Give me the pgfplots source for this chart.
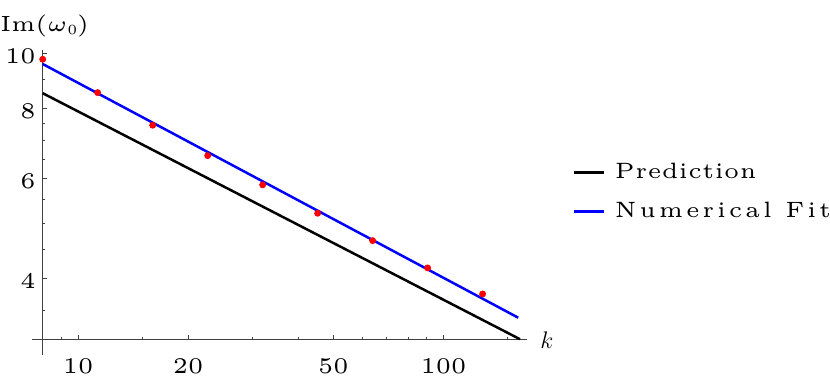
\documentclass[border=0pt]{standalone}
\usepackage{fontspec}
\usepackage{graphicx}
\usepackage{pgfplots}
\pgfplotsset{compat=1.18}
\newfontfamily\lmfive{lmroman5-regular.otf}
\newfontfamily\lmfivesp{lmroman5-regular.otf}[LetterSpace=12.5]
\newfontfamily\lmfivesq{lmroman5-regular.otf}[LetterSpace=2]
\newcommand\tickfont{\lmfive\fontsize{11.2}{13}\selectfont}
\newcommand\legfont{\lmfive\fontsize{11.1}{13}\selectfont}
\begin{document}
\begin{tikzpicture}
\useasboundingbox (-21.35pt,-21.35pt) rectangle (393.65pt,169.65pt);
\begin{axis}[
  at={(0pt,0pt)}, anchor=south west,
  scale only axis, width=242pt, height=144.65pt,
  xmode=log, ymode=log,
  xmin=8, xmax=169, ymin=3.117, ymax=10.136,
  axis x line=bottom, axis y line=left,
  axis line style={-, black!75, line width=0.5pt},
  tick align=inside, major tick length=2.3pt, minor tick length=1.3pt,
  every tick/.style={black!75, line width=0.5pt},
  xtick={10,20,50,100}, xticklabels={10,20,50,100},
  minor xtick={9,15,30,40,60,70,80,90,150},
  ytick={4,6,8,10}, yticklabels={4,6,8,10},
  minor ytick={3.5,4.5,5,5.5,6.5,7,7.5,8.5,9,9.5},
  xticklabel style={font=\tickfont, inner sep=0pt, anchor=north, yshift=-9.2pt},
  yticklabel style={font=\tickfont, inner sep=0pt, anchor=east, xshift=-3.35pt, yshift=-1.5pt},
  clip=false,
  xlabel={$k$},
  ylabel={{\lmfive\fontsize{11}{13}\selectfont Im(}\scalebox{2.2}{\fontsize{5}{6}\selectfont$\omega$}\raisebox{-1.2pt}{\lmfive\fontsize{7}{8}\selectfont 0}{\lmfive\fontsize{11}{13}\selectfont)}},
  every axis x label/.style={at={(axis description cs:1.0419,-0.0335)}, anchor=base, font=\fontsize{11.5}{14}\selectfont, inner sep=0pt},
  every axis y label/.style={at={(axis description cs:-0.0882,1.0633)}, anchor=base west, inner sep=0pt},
  legend style={draw=none, fill=none, at={(axis description cs:1.0945,0.609)}, anchor=north west,
    inner sep=0pt, outer sep=0pt, row sep=10.4pt, column sep=5pt,
    font=\legfont, nodes={inner sep=0pt}},
  legend cell align=left,
  legend image code/.code={\draw[#1] (0pt,0pt) -- (15pt,0pt);},
]
\addplot[black, line width=1.25pt] coordinates {(8,8.5) (162,3.118)};
\addlegendentry{{\lmfivesq Prediction}}
\addplot[blue, line width=1.25pt] coordinates {(8,9.574) (160.2,3.404)};
\addlegendentry{{\lmfivesp Numerical Fit}}
\addplot[only marks, mark=*, mark size=1.5pt, red, draw=none, mark options={fill=red, draw=red}, forget plot] coordinates {
(8,9.76) (11.31,8.52) (16,7.46) (22.63,6.59) (32,5.85) (45.25,5.21) (64,4.66) (90.51,4.17) (128,3.75)};
\end{axis}
\draw[black!75, line width=0.5pt] (-5.2pt,0pt) -- (0pt,0pt);
\draw[black!75, line width=0.5pt] (0pt,-7.85pt) -- (0pt,0pt);
\end{tikzpicture}
\end{document}
